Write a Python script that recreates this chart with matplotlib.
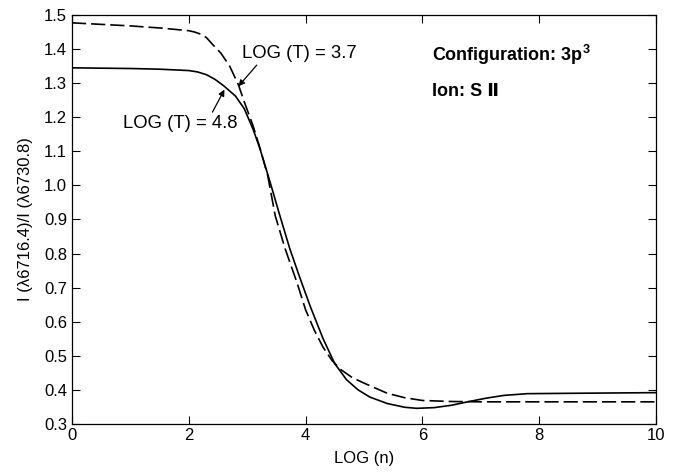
import matplotlib
matplotlib.use("Agg")
import matplotlib.pyplot as plt

# LOG(T) = 4.8 (solid)
x_t48 = [0, 1, 1.5, 2, 2.15, 2.3, 2.45, 2.6, 2.8, 2.95, 3.1, 3.22, 3.4, 3.56, 3.73, 3.9,
         4.08, 4.3, 4.5, 4.7, 4.9, 5.1, 5.4, 5.7, 5.9, 6.2, 6.5, 6.8, 7.1, 7.4, 7.8,
         8.5, 10]
y_t48 = [1.345, 1.343, 1.341, 1.337, 1.333, 1.325, 1.311, 1.292, 1.262, 1.225, 1.165,
         1.107, 1.005, 0.911, 0.814, 0.73, 0.645, 0.55, 0.477, 0.43, 0.40, 0.379, 0.36,
         0.349, 0.346, 0.348, 0.355, 0.366, 0.376, 0.384, 0.389, 0.390, 0.392]

# LOG(T) = 3.7 (dashed)
x_t37 = [0, 1, 1.5, 2, 2.1, 2.2, 2.3, 2.4, 2.55, 2.7, 2.85, 2.95, 3.1, 3.2, 3.35, 3.48,
         3.65, 3.85, 4.0, 4.15, 4.3, 4.45, 4.6, 4.8, 5.0, 5.4, 5.7, 6.0, 6.5, 7, 8, 10]
y_t37 = [1.477, 1.468, 1.462, 1.454, 1.450, 1.444, 1.434, 1.415, 1.388, 1.35, 1.295,
         1.245, 1.175, 1.12, 1.03, 0.911, 0.814, 0.716, 0.635, 0.575, 0.525, 0.487,
         0.46, 0.436, 0.42, 0.39, 0.377, 0.369, 0.366, 0.365, 0.365, 0.365]

x_ticks = [0, 2, 4, 6, 8, 10]
y_ticks = [0.3, 0.4, 0.5, 0.6, 0.7, 0.8, 0.9, 1.0, 1.1, 1.2, 1.3, 1.4, 1.5]

plt.rcParams['font.family'] = ['Liberation Sans', 'DejaVu Sans']
plt.rcParams['mathtext.fontset'] = 'custom'
plt.rcParams['mathtext.rm'] = 'Liberation Sans'
plt.rcParams['mathtext.bf'] = 'Liberation Sans:bold'

fig = plt.figure(figsize=(6.76, 4.72), dpi=100)
ax = fig.add_axes([72/676, 1-424/472, 584/676, 409/472])

ax.plot(x_t48, y_t48, color='black', lw=1.2)
ax.plot(x_t37, y_t37, color='black', lw=1.2, dashes=(8.5, 3))

ax.set_xlim(0, 10)
ax.set_ylim(0.3, 1.5)
ax.set_xticks(x_ticks)
ax.set_yticks(y_ticks)
ax.set_yticklabels([f"{v:.1f}" for v in y_ticks])
ax.tick_params(direction='in', top=True, right=True, length=6, width=0.8, labelsize=12)
ax.tick_params(axis='x', labeltop=False, pad=3)
for s in ax.spines.values():
    s.set_linewidth(0.9)

ax.set_xlabel("LOG (n)", fontsize=12, labelpad=6)
ax.set_ylabel("I (λ6716.4)/I (λ6730.8)", fontsize=12, labelpad=8)

ax.annotate("LOG (T) = 3.7", xy=(2.85, 1.291), xytext=(2.91, 1.386),
            fontsize=13.3, va='center', ha='left',
            arrowprops=dict(arrowstyle='-|>', color='black', lw=0.9,
                            shrinkA=0, shrinkB=0, mutation_scale=9,
                            relpos=(0.15, 0.0)))
ax.annotate("LOG (T) = 4.8", xy=(2.61, 1.281), xytext=(0.87, 1.182),
            fontsize=13.3, va='center', ha='left',
            arrowprops=dict(arrowstyle='-|>', color='black', lw=0.9,
                            shrinkA=0, shrinkB=0, mutation_scale=9,
                            relpos=(0.77, 1.0)))

ax.text(6.17, 1.383, r"Configuration: 3p$^{\mathbf{3}}$", fontsize=13,
        fontweight='bold', va='center', ha='left')
ax.text(6.17, 1.277, "Ion: S Ⅱ", fontsize=13, fontweight='bold',
        va='center', ha='left')

fig.savefig("out.png", dpi=100)
